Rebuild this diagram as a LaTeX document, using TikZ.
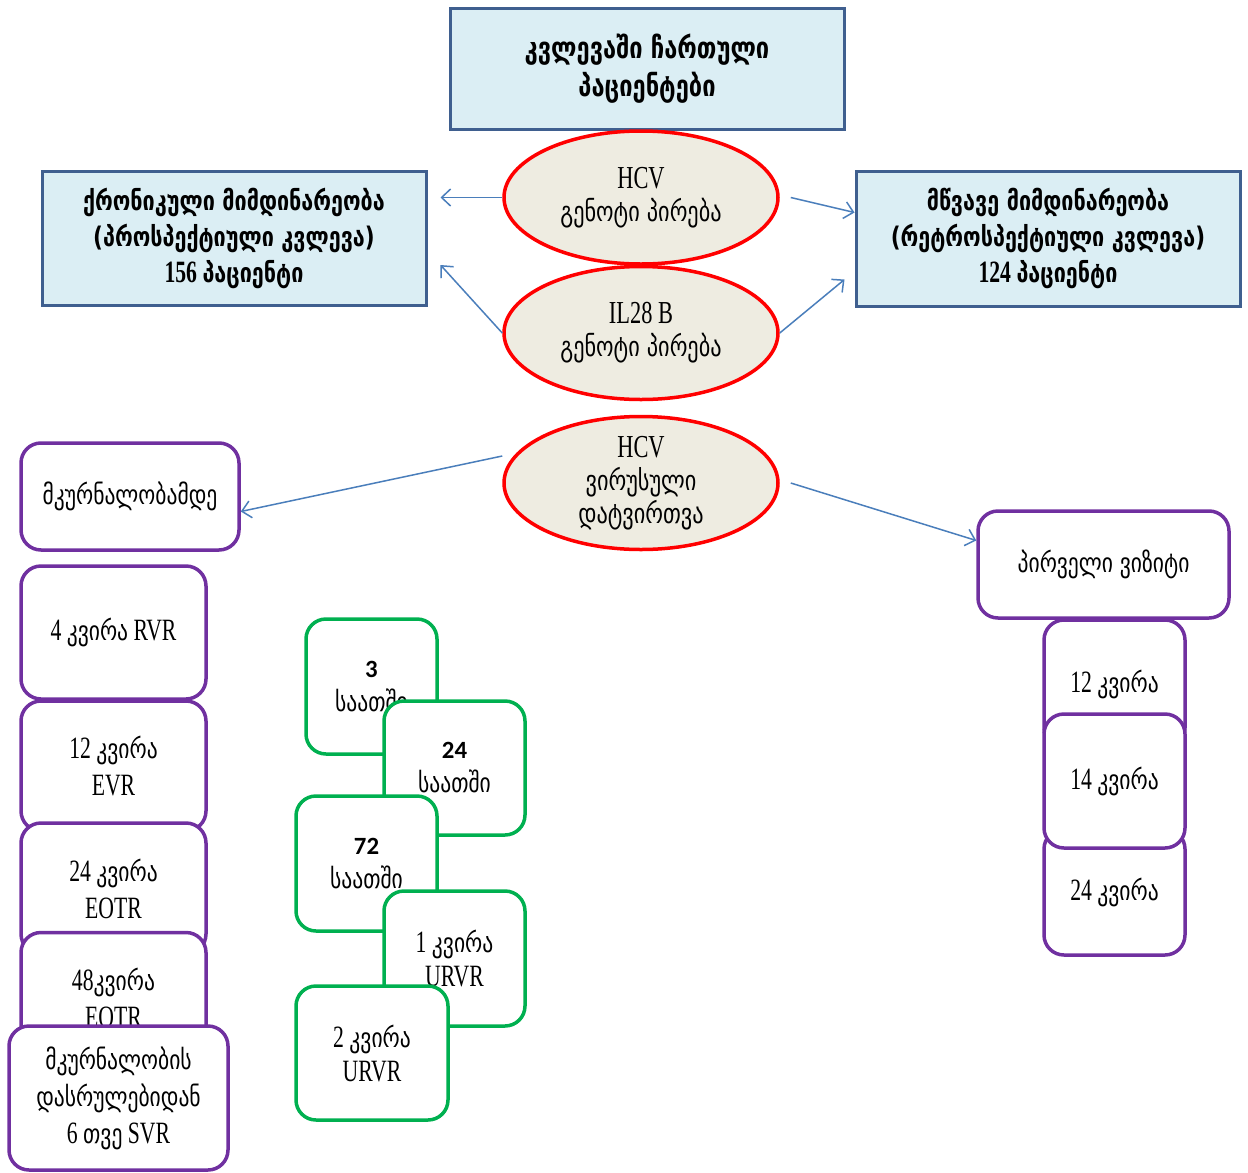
\documentclass[tikz,border=0pt]{standalone}
\usepackage{fontspec}
\setmainfont{Liberation Serif}[FakeStretch=0.7]
\newfontfamily\geo{DejaVu Sans}[FakeStretch=0.8,Scale=0.87]
\newfontfamily\numfont{Carlito}[Scale=0.8]
\usetikzlibrary{arrows.meta,calc,shapes.geometric}

\newcommand{\kat}[1]{{\geo #1}}

\definecolor{boxblue}{HTML}{DBEEF4}
\definecolor{boxframe}{HTML}{3F5F8F}
\definecolor{ovalfill}{HTML}{EEECE1}
\definecolor{linkblue}{HTML}{4A7EBB}
\definecolor{violetline}{HTML}{7030A0}
\definecolor{greenline}{HTML}{00B050}

\tikzset{
  groupbox/.style={draw=boxframe, fill=boxblue, line width=3pt, align=center,
    font=\fontsize{31}{36}\selectfont\bfseries},
  oval/.style={ellipse, draw=red, fill=ovalfill, line width=3.5pt, align=center,
    inner sep=0pt, minimum width=274pt, minimum height=133pt,
    font=\fontsize{32}{33}\selectfont},
  visitbox/.style={draw=violetline, fill=white, line width=3.5pt, rounded corners=20pt,
    align=center, font=\fontsize{31}{37}\selectfont},
  hourbox/.style={draw=greenline, fill=white, line width=3.5pt, rounded corners=20pt,
    align=center, font=\fontsize{31}{34}\selectfont}, 
  link/.style={draw=linkblue, line width=1.5pt, -{Straight Barb[length=9pt,width=17pt]}}
}

\begin{document}
\begin{tikzpicture}[x=1pt,y=-1pt]
\useasboundingbox (0,0) rectangle (1248,1173);
% groups of patients
\node[groupbox, minimum width=394pt, minimum height=121pt, font=\fontsize{34}{38}\selectfont\bfseries] (enrolled) at (647,68.5)
  {\kat{კვლევაში ჩართული}\\\kat{პაციენტები}};
\node[groupbox, minimum width=384pt, minimum height=134pt] (chronic) at (234,238)
  {\kat{ქრონიკული მიმდინარეობა}\\\kat{(პროსპექტიული კვლევა)}\\156 \kat{პაციენტი}};
\node[groupbox, minimum width=384pt, minimum height=135pt] (acute) at (1048,238.5)
  {\kat{მწვავე მიმდინარეობა}\\\kat{(რეტროსპექტიული კვლევა)}\\124 \kat{პაციენტი}};

% tests
\node[oval] (hcvgeno) at (641,197.5) {HCV\\\kat{გენოტი პირება}};
\node[oval] (ilgeno) at (641,333) {IL28 B\\\kat{გენოტი პირება}};
\node[oval] (load) at (641,483) {HCV\\\kat{ვირუსული}\\\kat{დატვირთვა}};

% chronic course visits
\node[visitbox, minimum width=218pt, minimum height=107pt] (pretreat) at (130,496.5) {\kat{მკურნალობამდე}};
\node[visitbox, minimum width=185pt, minimum height=133pt] (w4) at (113.5,632.5) {4 \kat{კვირა} RVR};
\node[visitbox, minimum width=185pt, minimum height=130pt] (w12) at (113.5,766) {12 \kat{კვირა}\\EVR};
\node[visitbox, minimum width=185pt, minimum height=131pt] (w24) at (113.5,888.5) {24 \kat{კვირა}\\EOTR};
\node[visitbox, minimum width=185pt, minimum height=131pt] (w48) at (113.5,998) {48\kat{კვირა}\\EOTR};
\node[visitbox, minimum width=219pt, minimum height=144pt] (svr) at (118.5,1098)
  {\kat{მკურნალობის}\\\kat{დასრულებიდან}\\6 \kat{თვე} SVR};

% early kinetics
\node[hourbox, minimum width=131pt, minimum height=135pt] (h3) at (371.5,686.5) {{\numfont\bfseries 3}\\\kat{საათში}};
\node[hourbox, minimum width=141pt, minimum height=134pt] (h24) at (454.5,768) {{\numfont\bfseries 24}\\\kat{საათში}};
\node[hourbox, minimum width=141pt, minimum height=135pt] (h72) at (366.5,863.5) {{\numfont\bfseries 72}\\\kat{საათში}};
\node[hourbox, minimum width=141pt, minimum height=135pt] (wk1) at (454.5,958.5) {1 \kat{კვირა}\\URVR};
\node[hourbox, minimum width=152pt, minimum height=134pt] (wk2) at (372,1053) {2 \kat{კვირა}\\URVR};

% acute course visits
\node[visitbox, minimum width=251pt, minimum height=107pt] (first) at (1103.5,564.5) {\kat{პირველი ვიზიტი}};
\node[visitbox, minimum width=141pt, minimum height=128pt] (a12) at (1114.5,684) {12 \kat{კვირა}};
\node[visitbox, minimum width=141pt, minimum height=126pt] (a24) at (1114.5,892) {24 \kat{კვირა}};
\node[visitbox, minimum width=141pt, minimum height=134pt] (a14) at (1114.5,781) {14 \kat{კვირა}};

% arrows
\draw[link] (hcvgeno.west) -- ($(chronic.east |- hcvgeno.west)+(13,0)$);
\draw[link] (ilgeno.west) -- ($(chronic.east)+(13,27)$);
\draw[link] ($(hcvgeno.east)+(11,0)$) -- ($(acute.west)+(0,-26)$);
\draw[link] (ilgeno.east) -- ($(acute.west)+(-10,41)$);
\draw[link] ($(load.west)+(0,-27)$) -- ($(pretreat.east)+(0,15)$);
\draw[link] ($(load.east)+(11,0)$) -- ($(first.west)+(0,-24)$);
\end{tikzpicture}
\end{document}
